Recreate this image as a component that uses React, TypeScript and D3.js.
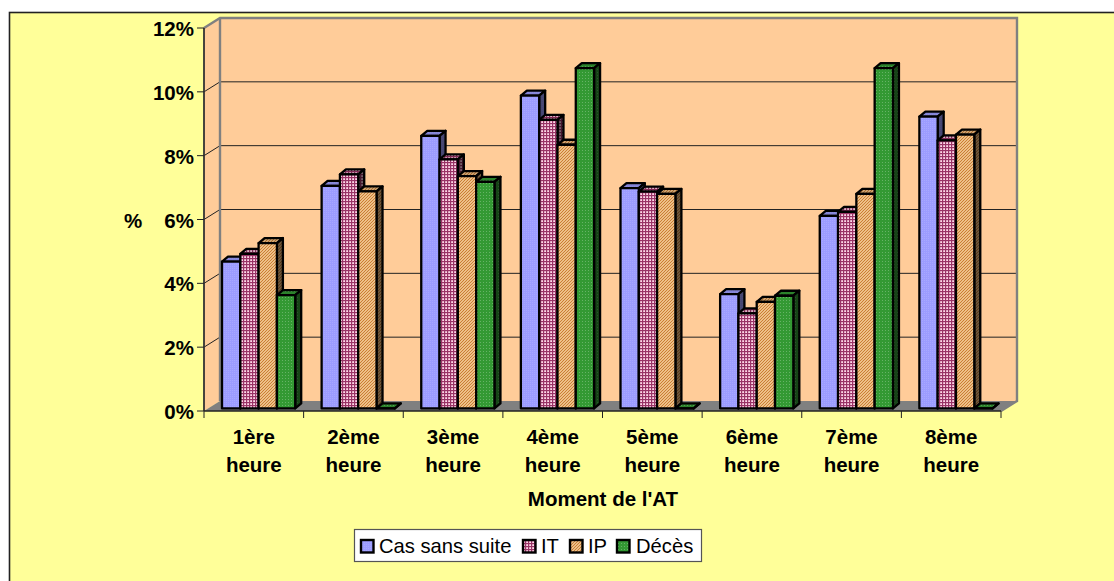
import React from "react";
import * as d3 from "d3";

const categories = ["1ère", "2ème", "3ème", "4ème", "5ème", "6ème", "7ème", "8ème"];
const seriesNames = ["Cas sans suite", "IT", "IP", "Décès"];
const casSansSuite = [4.6, 6.97, 8.54, 9.8, 6.9, 3.58, 6.03, 9.14];
const it = [4.84, 7.33, 7.8, 9.04, 6.79, 2.98, 6.16, 8.4];
const ip = [5.18, 6.8, 7.28, 8.26, 6.72, 3.34, 6.72, 8.58];
const deces = [3.55, 0, 7.1, 10.66, 0, 3.53, 10.66, 0];
const yTicks = [0, 2, 4, 6, 8, 10, 12];

const seriesValues = [casSansSuite, it, ip, deces];
const patternIds = ["pBlue", "pIT", "pIP", "pGreen"];
const FONT = "'Liberation Sans', Arial, sans-serif";

const frontLeft = 204;
const frontRight = 1001;
const wallDx = 16;
const wallDy = -10;
const barDx = 18;
const barW = 18.3;
const depthX = 6;
const depthY = -5;
const baseLift = 2.6;

const y = d3.scaleLinear().domain([0, 12]).range([411, 28]);
const xBand = d3.scaleBand<number>().domain(d3.range(categories.length)).range([frontLeft, frontRight]);
const poly = (pts: [number, number][]) => pts.map((p) => p.join(",")).join(" ");

function Patterns() {
  return (
    <defs>
      <pattern id="pBlue" width="2" height="2" patternUnits="userSpaceOnUse">
        <rect width="2" height="2" fill="#9c9cff" />
        <rect width="1" height="1" fill="#a8a8ff" />
      </pattern>
      <pattern id="pIT" width="3" height="3" patternUnits="userSpaceOnUse">
        <rect width="3" height="3" fill="#ffd8e8" />
        <rect width="3" height="1.2" fill="#993366" />
        <rect width="1.2" height="3" fill="#993366" />
      </pattern>
      <pattern id="pIP" width="3" height="3" patternUnits="userSpaceOnUse">
        <rect width="3" height="3" fill="#ffe0b0" />
        <path d="M-1,1 L1,-1 M0,3 L3,0 M2,4 L4,2" stroke="#c87a30" strokeWidth="1.2" />
      </pattern>
      <pattern id="pGreen" width="3" height="3" patternUnits="userSpaceOnUse">
        <rect width="3" height="3" fill="#339933" />
        <rect width="1" height="1" fill="#66b366" />
      </pattern>
    </defs>
  );
}

function Bar({ cat, s, v }: { cat: number; s: number; v: number }) {
  const x0 = (xBand(cat) as number) + barDx + s * barW;
  const x1 = x0 + barW;
  const base = y(0) - baseLift;
  const top = y(v) - baseLift;
  const fill = `url(#${patternIds[s]})`;
  const faces: { pts: [number, number][]; shade: number }[] = [
    { pts: [[x0, top], [x0 + depthX, top + depthY], [x1 + depthX, top + depthY], [x1, top]], shade: 0.15 },
    { pts: [[x1, top], [x1 + depthX, top + depthY], [x1 + depthX, base + depthY], [x1, base]], shade: 0.55 },
    { pts: [[x0, top], [x1, top], [x1, base], [x0, base]], shade: 0 },
  ];
  return (
    <g>
      {faces.map((f, i) => (
        <g key={i}>
          <polygon points={poly(f.pts)} fill={fill} />
          {f.shade > 0 && <polygon points={poly(f.pts)} fill="#000" fillOpacity={f.shade} />}
          <polygon points={poly(f.pts)} fill="none" stroke="#000" strokeWidth={2.3} strokeLinejoin="round" />
        </g>
      ))}
    </g>
  );
}

export default function App() {
  const legendItems = [
    { x: 361, tx: 379 },
    { x: 523, tx: 541 },
    { x: 570, tx: 588 },
    { x: 617, tx: 636 },
  ];
  return (
    <svg
      width={1114}
      height={581}
      style={{ position: "absolute", left: 0, top: 0, display: "block", background: "#fff" }}
      fontFamily={FONT}
    >
      <Patterns />
      {/* chart area */}
      <rect x={9.5} y={12.5} width={1110} height={580} fill="#ffff99" stroke="#222" strokeWidth={1.6} />

      {/* side wall, back wall and floor */}
      <polygon
        points={poly([[frontLeft, y(12)], [frontLeft + wallDx, y(12) + wallDy], [frontLeft + wallDx, y(0) + wallDy], [frontLeft, y(0)]])}
        fill="#ffcc99"
      />
      <rect
        x={frontLeft + wallDx}
        y={y(12) + wallDy}
        width={frontRight - frontLeft}
        height={y(0) - y(12)}
        fill="#ffcc99"
      />
      <polygon
        points={poly([[frontLeft, y(0)], [frontLeft + wallDx, y(0) + wallDy], [frontRight + wallDx, y(0) + wallDy], [frontRight, y(0)]])}
        fill="#808080"
      />
      {yTicks.filter((t) => t > 0 && t < 12).map((t) => (
        <g key={t} stroke="#222" strokeWidth={1}>
          <line x1={frontLeft} y1={y(t)} x2={frontLeft + wallDx} y2={y(t) + wallDy} />
          <line x1={frontLeft + wallDx} y1={y(t) + wallDy} x2={frontRight + wallDx} y2={y(t) + wallDy} />
        </g>
      ))}
      <polyline
        points={poly([
          [frontLeft, y(12)],
          [frontLeft + wallDx, y(12) + wallDy],
          [frontRight + wallDx, y(12) + wallDy],
          [frontRight + wallDx, y(0) + wallDy],
          [frontRight, y(0)],
        ])}
        fill="none"
        stroke="#808080"
        strokeWidth={2.4}
      />
      <line
        x1={frontLeft + wallDx}
        y1={y(12) + wallDy}
        x2={frontLeft + wallDx}
        y2={y(0) + wallDy}
        stroke="#808080"
        strokeWidth={2.4}
      />

      {/* bars */}
      {categories.map((_, c) =>
        seriesValues.map((vals, s) => <Bar key={`${c}-${s}`} cat={c} s={s} v={vals[c]} />)
      )}

      {/* axes */}
      <line x1={frontLeft} y1={y(0)} x2={frontLeft} y2={y(12)} stroke="#333" strokeWidth={1.8} />
      <line x1={frontLeft} y1={y(0)} x2={frontRight} y2={y(0)} stroke="#222" strokeWidth={1.4} />
      {yTicks.map((t) => (
        <g key={t}>
          <line x1={frontLeft - 7} x2={frontLeft} y1={y(t)} y2={y(t)} stroke="#222" strokeWidth={1} />
          <text x={194} y={y(t) + 8} textAnchor="end" fontSize={20.5} fontWeight="bold" fill="#000">
            {t}%
          </text>
        </g>
      ))}
      {d3.range(categories.length + 1).map((i) => {
        const tx = frontLeft + i * xBand.step();
        return <line key={i} x1={tx} x2={tx} y1={y(0)} y2={y(0) + 7} stroke="#222" strokeWidth={1} />;
      })}
      {categories.map((c, i) => {
        const cx = (xBand(i) as number) + xBand.bandwidth() / 2;
        return (
          <g key={c} textAnchor="middle" fontSize={20.5} fontWeight="bold" fill="#000">
            <text x={cx} y={444}>{c}</text>
            <text x={cx} y={472}>heure</text>
          </g>
        );
      })}
      <text x={133} y={228} textAnchor="middle" fontSize={20.5} fontWeight="bold">%</text>
      <text x={603} y={506} textAnchor="middle" fontSize={20.5} fontWeight="bold">Moment de l'AT</text>

      {/* legend */}
      <rect x={354.5} y={529.5} width={347} height={32} fill="#fff" stroke="#555" strokeWidth={1.2} />
      {seriesNames.map((name, i) => (
        <g key={name}>
          <rect
            x={legendItems[i].x}
            y={540}
            width={12.5}
            height={12.5}
            fill={`url(#${patternIds[i]})`}
            stroke="#000"
            strokeWidth={2.4}
          />
          <text x={legendItems[i].tx} y={553} fontSize={20.2} fill="#000">
            {name}
          </text>
        </g>
      ))}
    </svg>
  );
}
